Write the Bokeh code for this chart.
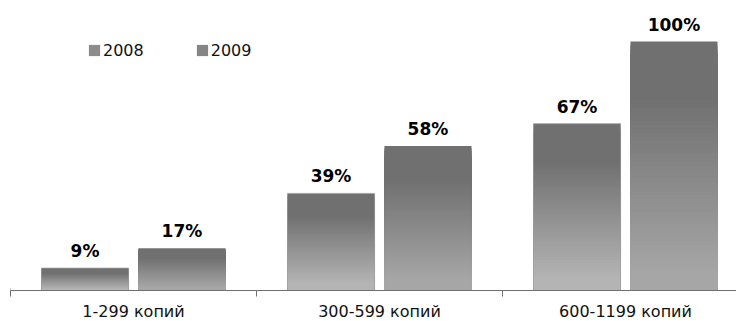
import numpy as np
from bokeh.plotting import figure
from bokeh.models import Range1d, FixedTicker, ColumnDataSource, Legend, LegendItem
from bokeh.core.properties import value
from bokeh.embed import file_html
from bokeh.resources import INLINE

# ---- data ----
categories = ["1-299 копий", "300-599 копий", "600-1199 копий"]
series_names = ["2008", "2009"]
values_2008 = [9, 39, 67]
values_2009 = [17, 58, 100]
labels_2008 = ["9%", "39%", "67%"]
labels_2009 = ["17%", "58%", "100%"]

# ---- styling ----
FONT = "DejaVu Sans"
TOP_GRAY = 112
BOTTOM_GRAY = {"2008": 180, "2009": 166}
OFFSET = {"2008": -0.197, "2009": 0.197}
BAR_W = 0.354
N = 60


def gray(v):
    v = int(round(v))
    return "#%02x%02x%02x" % (v, v, v)


def grad_color(s, bottom):
    g = min(max((s - 0.22) / 0.7, 0.0), 1.0)
    return gray(TOP_GRAY + (bottom - TOP_GRAY) * g)


p = figure(frame_width=726, frame_height=290, output_backend="svg",
           toolbar_location=None, y_axis_location=None,
           x_range=Range1d(0, 726 / 246), y_range=Range1d(0, 290 / 249 * 100),
           min_border_left=10, min_border_right=0, min_border_top=0,
           min_border_bottom=0)
p.outline_line_color = None
p.xgrid.visible = False
p.ygrid.visible = False
p.background_fill_color = "white"
p.border_fill_color = "white"

series_vals = {"2008": values_2008, "2009": values_2009}
series_labels = {"2008": labels_2008, "2009": labels_2009}

for name in series_names:
    xs, tops, cols = [], [], []
    for i, v in enumerate(series_vals[name]):
        xc = i + 0.5 + OFFSET[name]
        for k in range(N):
            s = k / N
            xs.append(xc)
            tops.append(v * (1 - s))
            cols.append(grad_color(s, BOTTOM_GRAY[name]))
    src = ColumnDataSource(dict(x=xs, top=tops, color=cols))
    p.vbar(x="x", top="top", bottom=0, width=BAR_W, source=src,
           fill_color="color", line_color=None)
    # outline
    bx = [i + 0.5 + OFFSET[name] for i in range(len(categories))]
    if name == "2008":
        p.vbar(x=bx, top=series_vals[name], bottom=0, width=BAR_W,
               fill_color=None, line_color="#9c9c9c", line_alpha=0.7, line_width=1)
    # value labels
    p.text(x=bx, y=series_vals[name], text=series_labels[name],
           text_font=value(FONT), text_font_style="bold", text_font_size="17px",
           text_align="center", text_baseline="middle", y_offset=-17,
           text_color="#000000")

# legend with off-range dummy renderers
r1 = p.vbar(x=[-5], top=[1], width=0.1, fill_color="#8c8c8c", line_color=None)
r2 = p.vbar(x=[-5], top=[1], width=0.1, fill_color="#858585", line_color=None)
legend = Legend(items=[LegendItem(label=series_names[0], renderers=[r1]),
                       LegendItem(label=series_names[1], renderers=[r2])],
                orientation="horizontal", location=(77, 230),
                border_line_color=None, background_fill_alpha=0,
                padding=0, margin=0, spacing=51, label_standoff=2,
                label_text_font=FONT, label_text_font_size="16px",
                label_text_color="#111111",
                glyph_width=14, glyph_height=14, label_height=20)
p.add_layout(legend)

ax = p.xaxis[0]
ax.ticker = FixedTicker(ticks=[i + 0.5 for i in range(len(categories))],
                        minor_ticks=list(range(len(categories) + 1)))
ax.major_label_overrides = {i + 0.5: c for i, c in enumerate(categories)}
ax.major_tick_out = 0
ax.major_tick_in = 0
ax.minor_tick_out = 6
ax.minor_tick_in = 0
ax.minor_tick_line_color = "#707070"
ax.axis_line_color = "#707070"
ax.axis_line_width = 1
ax.major_label_standoff = 5
ax.major_label_text_font = FONT
ax.major_label_text_font_size = "16px"
ax.major_label_text_color = "#111111"

open("out.html", "w").write(file_html(p, INLINE))
